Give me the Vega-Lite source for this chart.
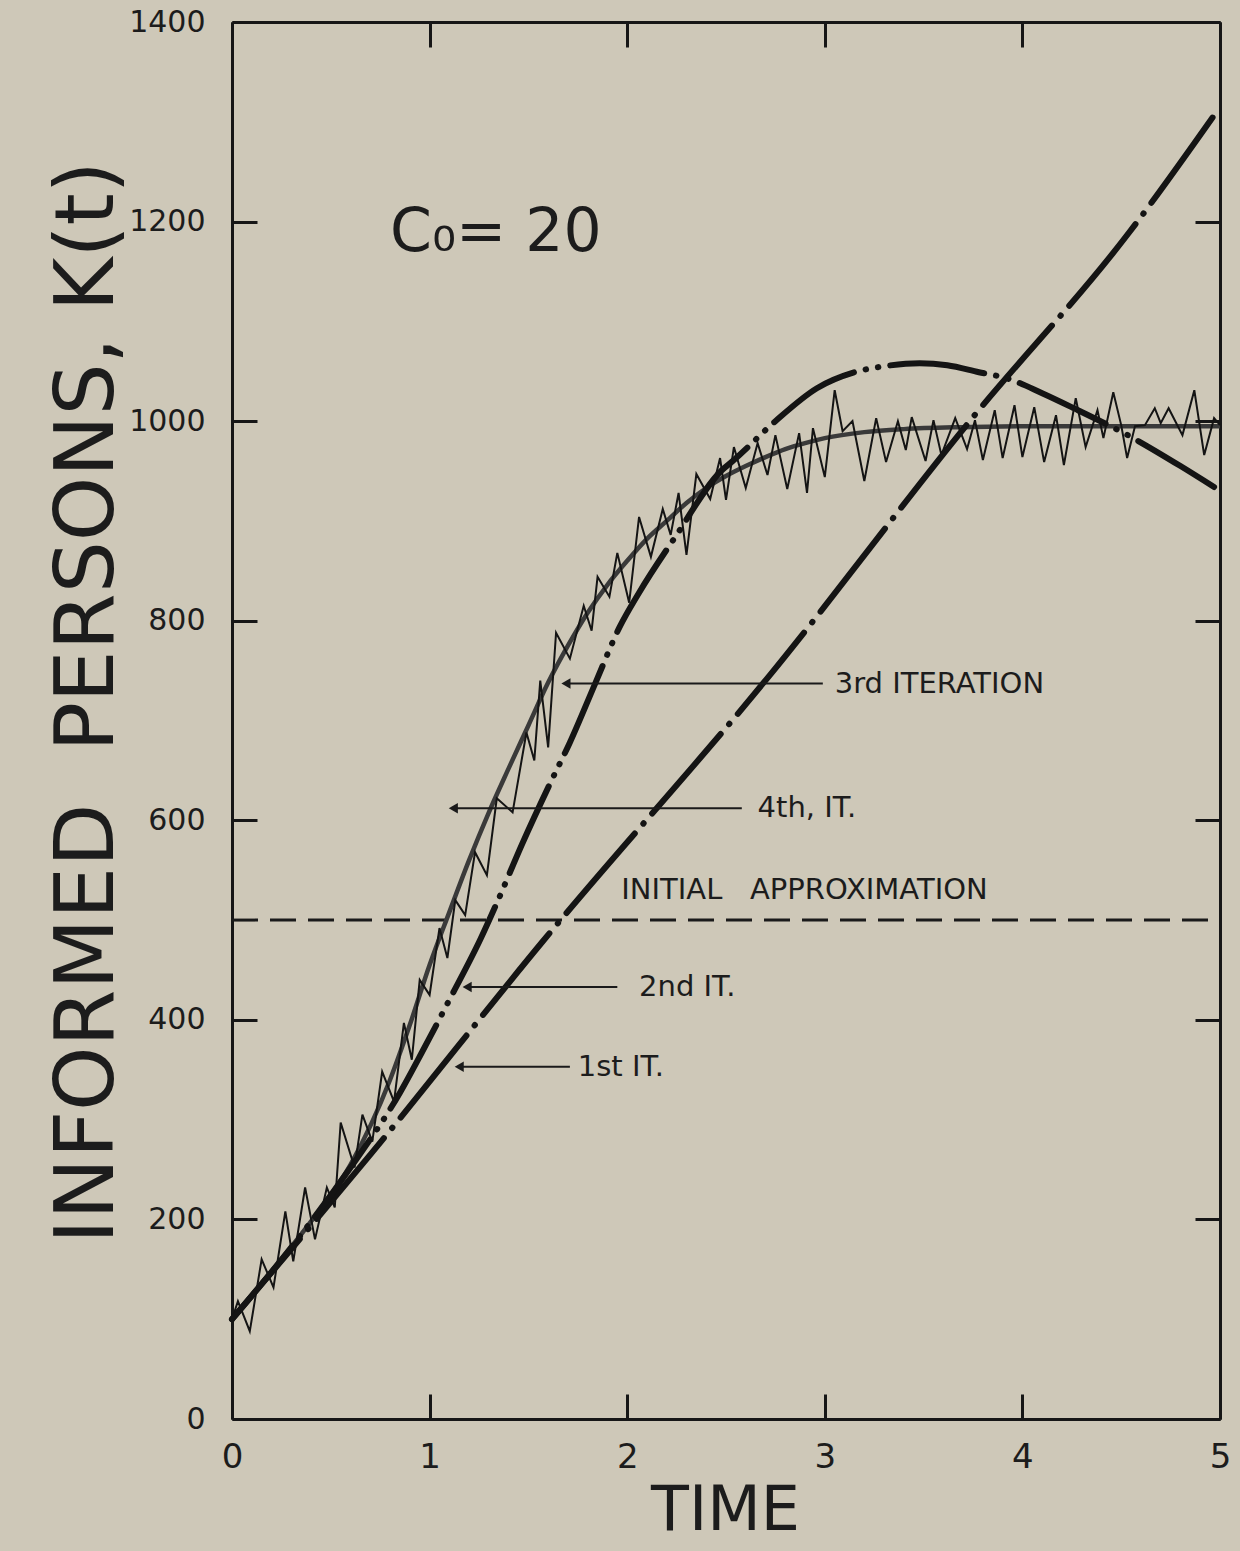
{
  "$schema": "https://vega.github.io/schema/vega-lite/v6.json",
  "width": 988,
  "height": 1397,
  "autosize": {"type": "none"},
  "padding": {"left": 232, "top": 22, "right": 20, "bottom": 132},
  "background": "#cec8b8",
  "config": {
    "view": {"stroke": null},
    "axis": {
      "domainColor": "#161616",
      "domainWidth": 3,
      "tickColor": "#161616",
      "tickWidth": 3,
      "tickSize": -25,
      "grid": false,
      "labelFont": "DejaVu Sans",
      "labelColor": "#1c1c1c",
      "labelFontSize": 30,
      "labelFlush": false,
      "labelOverlap": false,
      "labelBound": false,
      "titleFont": "DejaVu Sans",
      "titleFontWeight": "normal",
      "titleColor": "#1c1c1c"
    }
  },
  "datasets": {
    "initial": [{"t": 0, "K": 500}, {"t": 5, "K": 500}],
    "smooth": [
      {"t": 0, "K": 100}, {"t": 0.2, "K": 148}, {"t": 0.4, "K": 198}, {"t": 0.6, "K": 255},
      {"t": 0.8, "K": 340}, {"t": 0.9, "K": 395}, {"t": 1.0, "K": 455}, {"t": 1.1, "K": 508},
      {"t": 1.2, "K": 560}, {"t": 1.3, "K": 608}, {"t": 1.4, "K": 652}, {"t": 1.5, "K": 695},
      {"t": 1.6, "K": 738}, {"t": 1.7, "K": 775}, {"t": 1.8, "K": 808}, {"t": 1.9, "K": 836},
      {"t": 2.0, "K": 860}, {"t": 2.1, "K": 882}, {"t": 2.2, "K": 900}, {"t": 2.3, "K": 918},
      {"t": 2.4, "K": 933}, {"t": 2.5, "K": 945}, {"t": 2.6, "K": 955}, {"t": 2.7, "K": 964},
      {"t": 2.8, "K": 972}, {"t": 2.9, "K": 978}, {"t": 3.0, "K": 983}, {"t": 3.2, "K": 989},
      {"t": 3.4, "K": 992}, {"t": 3.7, "K": 994}, {"t": 4.0, "K": 995}, {"t": 4.5, "K": 995},
      {"t": 5.0, "K": 995}
    ],
    "jagged": [
      {"t": 0.00, "K": 100}, {"t": 0.03, "K": 118}, {"t": 0.09, "K": 88}, {"t": 0.15, "K": 160},
      {"t": 0.21, "K": 132}, {"t": 0.27, "K": 208}, {"t": 0.31, "K": 158}, {"t": 0.37, "K": 232},
      {"t": 0.42, "K": 180}, {"t": 0.48, "K": 232}, {"t": 0.52, "K": 212}, {"t": 0.55, "K": 297},
      {"t": 0.62, "K": 252}, {"t": 0.66, "K": 305}, {"t": 0.71, "K": 278}, {"t": 0.76, "K": 348},
      {"t": 0.82, "K": 318}, {"t": 0.87, "K": 397}, {"t": 0.91, "K": 360}, {"t": 0.95, "K": 440},
      {"t": 1.00, "K": 425}, {"t": 1.05, "K": 492}, {"t": 1.09, "K": 462}, {"t": 1.13, "K": 520},
      {"t": 1.18, "K": 505}, {"t": 1.23, "K": 568}, {"t": 1.29, "K": 545}, {"t": 1.34, "K": 622},
      {"t": 1.42, "K": 608}, {"t": 1.49, "K": 688}, {"t": 1.53, "K": 660}, {"t": 1.56, "K": 740},
      {"t": 1.60, "K": 673}, {"t": 1.64, "K": 788}, {"t": 1.71, "K": 762}, {"t": 1.78, "K": 815},
      {"t": 1.82, "K": 790}, {"t": 1.85, "K": 844}, {"t": 1.91, "K": 824}, {"t": 1.95, "K": 868},
      {"t": 2.01, "K": 818}, {"t": 2.06, "K": 904}, {"t": 2.12, "K": 864}, {"t": 2.18, "K": 912},
      {"t": 2.22, "K": 886}, {"t": 2.26, "K": 928}, {"t": 2.30, "K": 866}, {"t": 2.35, "K": 947},
      {"t": 2.42, "K": 922}, {"t": 2.47, "K": 963}, {"t": 2.50, "K": 921}, {"t": 2.54, "K": 974},
      {"t": 2.60, "K": 933}, {"t": 2.66, "K": 978}, {"t": 2.71, "K": 946}, {"t": 2.75, "K": 986},
      {"t": 2.81, "K": 932}, {"t": 2.87, "K": 988}, {"t": 2.91, "K": 928}, {"t": 2.94, "K": 993},
      {"t": 3.00, "K": 944}, {"t": 3.05, "K": 1031}, {"t": 3.09, "K": 990}, {"t": 3.14, "K": 1000},
      {"t": 3.20, "K": 940}, {"t": 3.26, "K": 1003}, {"t": 3.31, "K": 959}, {"t": 3.37, "K": 1000},
      {"t": 3.41, "K": 971}, {"t": 3.44, "K": 1004}, {"t": 3.51, "K": 960}, {"t": 3.55, "K": 1001},
      {"t": 3.59, "K": 966}, {"t": 3.66, "K": 1003}, {"t": 3.72, "K": 972}, {"t": 3.76, "K": 1001},
      {"t": 3.80, "K": 961}, {"t": 3.86, "K": 1011}, {"t": 3.90, "K": 963}, {"t": 3.96, "K": 1016},
      {"t": 4.00, "K": 964}, {"t": 4.06, "K": 1014}, {"t": 4.11, "K": 959}, {"t": 4.17, "K": 1006},
      {"t": 4.21, "K": 956}, {"t": 4.27, "K": 1023}, {"t": 4.32, "K": 974}, {"t": 4.38, "K": 1011},
      {"t": 4.41, "K": 983}, {"t": 4.46, "K": 1029}, {"t": 4.50, "K": 996}, {"t": 4.53, "K": 963},
      {"t": 4.57, "K": 995}, {"t": 4.62, "K": 996}, {"t": 4.67, "K": 1013}, {"t": 4.70, "K": 998},
      {"t": 4.74, "K": 1013}, {"t": 4.81, "K": 986}, {"t": 4.87, "K": 1031}, {"t": 4.92, "K": 966},
      {"t": 4.97, "K": 1003}, {"t": 5.00, "K": 996}
    ],
    "it1": [
      {"t": 0, "K": 100}, {"t": 0.7, "K": 265}, {"t": 1.57, "K": 478}, {"t": 2.72, "K": 745},
      {"t": 3.75, "K": 1004}, {"t": 4.54, "K": 1189}, {"t": 4.99, "K": 1312}
    ],
    "it2": [
      {"t": 0, "K": 100}, {"t": 0.3, "K": 172}, {"t": 0.6, "K": 252}, {"t": 0.85, "K": 327},
      {"t": 0.96, "K": 367}, {"t": 1.1, "K": 420}, {"t": 1.26, "K": 482}, {"t": 1.34, "K": 517},
      {"t": 1.47, "K": 577}, {"t": 1.61, "K": 637}, {"t": 1.71, "K": 678}, {"t": 1.84, "K": 738},
      {"t": 1.96, "K": 793}, {"t": 2.06, "K": 828}, {"t": 2.24, "K": 883}, {"t": 2.48, "K": 951},
      {"t": 2.54, "K": 961}, {"t": 2.75, "K": 1000}, {"t": 2.96, "K": 1033}, {"t": 3.15, "K": 1049},
      {"t": 3.3, "K": 1055}, {"t": 3.48, "K": 1058}, {"t": 3.62, "K": 1056}, {"t": 3.78, "K": 1049},
      {"t": 3.92, "K": 1043}, {"t": 4.1, "K": 1028}, {"t": 4.26, "K": 1013}, {"t": 4.56, "K": 983},
      {"t": 4.8, "K": 955}, {"t": 4.97, "K": 934}
    ],
    "arrows": [
      {"t": 1.69, "t2": 2.99, "K": 737},
      {"t": 1.12, "t2": 2.58, "K": 612},
      {"t": 1.19, "t2": 1.95, "K": 433},
      {"t": 1.15, "t2": 1.71, "K": 353}
    ],
    "labels": [
      {"t": 3.05, "K": 737, "text": "3rd ITERATION"},
      {"t": 2.66, "K": 612, "text": "4th, IT."},
      {"t": 1.97, "K": 530, "text": "INITIAL\u00a0\u00a0\u00a0APPROXIMATION"},
      {"t": 2.06, "K": 433, "text": "2nd IT."},
      {"t": 1.75, "K": 353, "text": "1st IT."}
    ],
    "param": [{"t": 0.8, "K": 1171, "text": "C\u2080= 20"}]
  },
  "layer": [
    {
      "data": {"name": "initial"},
      "mark": {"type": "line", "color": "#1a1a1a", "strokeWidth": 3, "strokeDash": [26, 12]},
      "encoding": {
        "x": {"field": "t", "type": "quantitative", "scale": {"domain": [0, 5], "nice": false, "zero": false},
          "axis": {"orient": "bottom", "values": [0, 1, 2, 3, 4, 5], "format": "d", "labelPadding": 46, "labelFontSize": 34, "title": "TIME",
            "titleFontSize": 62, "titleX": 493, "titleY": 110, "titleAlign": "center", "titleBaseline": "alphabetic"}},
        "y": {"field": "K", "type": "quantitative", "scale": {"domain": [0, 1400], "nice": false, "zero": false},
          "axis": {"orient": "left", "values": [0, 200, 400, 600, 800, 1000, 1200, 1400], "format": "d", "labelPadding": 52,
            "title": "INFORMED\u00a0\u00a0PERSONS, K(t)", "titleFontSize": 82, "titleAngle": 270,
            "titleX": -120, "titleY": 680, "titleAlign": "center", "titleBaseline": "alphabetic"}}
      }
    },
    {
      "data": {"name": "initial"},
      "mark": {"type": "line", "strokeOpacity": 0},
      "encoding": {
        "x": {"field": "t", "type": "quantitative", "scale": {"domain": [0, 5], "nice": false, "zero": false},
          "axis": {"orient": "top", "values": [0, 1, 2, 3, 4, 5], "labels": false, "title": null}},
        "y": {"field": "K", "type": "quantitative", "scale": {"domain": [0, 1400], "nice": false, "zero": false},
          "axis": {"orient": "right", "values": [0, 200, 400, 600, 800, 1000, 1200, 1400], "labels": false, "title": null}}
      }
    },
    {
      "data": {"name": "smooth"},
      "mark": {"type": "line", "color": "#3a3a3a", "strokeWidth": 4.5, "interpolate": "monotone"},
      "encoding": {
        "x": {"field": "t", "type": "quantitative", "axis": null},
        "y": {"field": "K", "type": "quantitative", "axis": null}
      }
    },
    {
      "data": {"name": "jagged"},
      "mark": {"type": "line", "color": "#141414", "strokeWidth": 2, "strokeJoin": "miter"},
      "encoding": {
        "x": {"field": "t", "type": "quantitative", "axis": null},
        "y": {"field": "K", "type": "quantitative", "axis": null}
      }
    },
    {
      "data": {"name": "it1"},
      "mark": {"type": "line", "color": "#141414", "strokeWidth": 6, "strokeCap": "round", "strokeDash": [105, 13, 0.5, 13], "interpolate": "monotone"},
      "encoding": {
        "x": {"field": "t", "type": "quantitative", "axis": null},
        "y": {"field": "K", "type": "quantitative", "axis": null}
      }
    },
    {
      "data": {"name": "it2"},
      "mark": {"type": "line", "color": "#141414", "strokeWidth": 6, "strokeCap": "round", "strokeDash": [95, 12, 0.5, 12, 0.5, 12], "interpolate": "monotone"},
      "encoding": {
        "x": {"field": "t", "type": "quantitative", "axis": null},
        "y": {"field": "K", "type": "quantitative", "axis": null}
      }
    },
    {
      "data": {"name": "arrows"},
      "mark": {"type": "rule", "color": "#1a1a1a", "strokeWidth": 2},
      "encoding": {
        "x": {"field": "t", "type": "quantitative", "axis": null},
        "x2": {"field": "t2"},
        "y": {"field": "K", "type": "quantitative", "axis": null}
      }
    },
    {
      "data": {"name": "arrows"},
      "mark": {"type": "point", "shape": "triangle-left", "filled": true, "color": "#1a1a1a", "size": 110, "opacity": 1},
      "encoding": {
        "x": {"field": "t", "type": "quantitative", "axis": null},
        "y": {"field": "K", "type": "quantitative", "axis": null}
      }
    },
    {
      "data": {"name": "labels"},
      "mark": {"type": "text", "align": "left", "baseline": "middle", "font": "DejaVu Sans", "fontSize": 29, "color": "#1c1c1c"},
      "encoding": {
        "x": {"field": "t", "type": "quantitative", "axis": null},
        "y": {"field": "K", "type": "quantitative", "axis": null},
        "text": {"field": "text"}
      }
    },
    {
      "data": {"name": "param"},
      "mark": {"type": "text", "align": "left", "baseline": "alphabetic", "font": "DejaVu Sans", "fontSize": 60, "color": "#1c1c1c"},
      "encoding": {
        "x": {"field": "t", "type": "quantitative", "axis": null},
        "y": {"field": "K", "type": "quantitative", "axis": null},
        "text": {"field": "text"}
      }
    }
  ],
  "resolve": {"axis": {"x": "independent", "y": "independent"}}
}
